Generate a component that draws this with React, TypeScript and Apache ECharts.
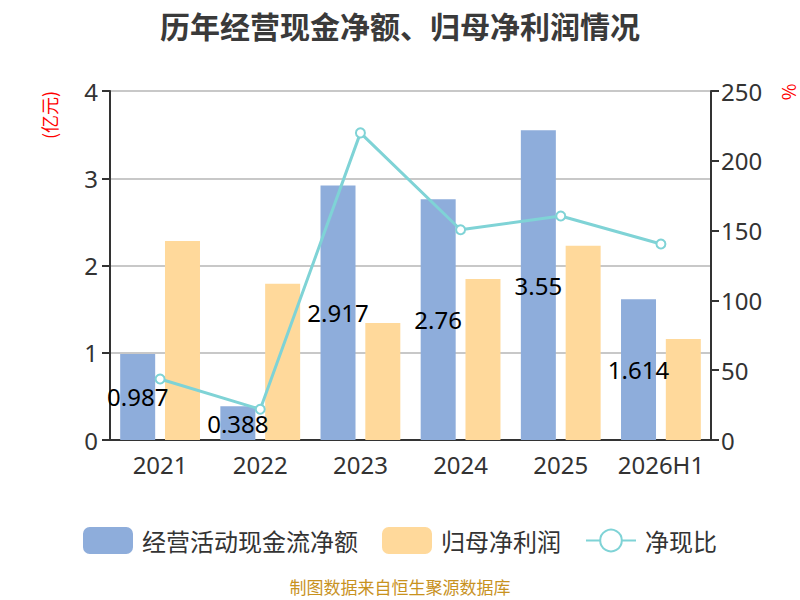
import React, { useEffect, useRef } from "react";
import * as echarts from "echarts";

const categories = ["2021", "2022", "2023", "2024", "2025", "2026H1"];
const cashFlow = [0.987, 0.388, 2.917, 2.76, 3.55, 1.614];
const netProfit = [2.28, 1.79, 1.34, 1.845, 2.227, 1.158];
const ratio = [43.7, 22, 220, 150.6, 160.5, 140.4];
const leftTicks = [0, 4, 1];
const rightTicks = [0, 250, 50];

const FONT = "'Noto Sans CJK SC', 'Noto Sans', sans-serif";
const NUM_FONT = "'Noto Sans', sans-serif";

export default function App() {
  const ref = useRef<HTMLDivElement>(null);
  useEffect(() => {
    document.body.style.margin = "0";
    if (!ref.current) return;
    const chart = echarts.init(ref.current, null, { renderer: "svg" });
    chart.setOption({
      animation: false,
      textStyle: { fontFamily: FONT },
      title: {
        text: "历年经营现金净额、归母净利润情况",
        left: "center",
        top: 5,
        textStyle: { fontSize: 30, fontWeight: "bold", color: "#3a3a3a", fontFamily: FONT },
      },
      grid: { left: 110, right: 89, top: 91, bottom: 160 },
      legend: {
        top: 522,
        left: "center",
        itemWidth: 50,
        itemHeight: 27,
        itemGap: 24,
        textStyle: { fontSize: 24, color: "#333", fontFamily: FONT, padding: [0, 0, 0, 4] },
        data: [
          { name: "经营活动现金流净额", icon: "roundRect" },
          { name: "归母净利润", icon: "roundRect" },
          { name: "净现比" },
        ],
      },
      graphic: [
        {
          type: "text",
          x: 49,
          y: 115,
          rotation: Math.PI / 2,
          style: {
            text: "(亿元)",
            fill: "#ff0000",
            fontSize: 18,
            fontFamily: FONT,
            align: "center",
            verticalAlign: "middle",
          },
        },
        {
          type: "text",
          x: 788,
          y: 92,
          rotation: Math.PI / 2,
          style: {
            text: "%",
            fill: "#ff0000",
            fontSize: 18,
            fontFamily: FONT,
            align: "center",
            verticalAlign: "middle",
          },
        },
        {
          type: "text",
          left: "center",
          top: 578,
          style: { text: "制图数据来自恒生聚源数据库", fill: "#C8921E", fontSize: 17, fontFamily: FONT },
        },
      ],
      xAxis: {
        type: "category",
        data: categories,
        axisLine: { lineStyle: { color: "#333", width: 2 } },
        axisTick: { length: 8, lineStyle: { color: "#333", width: 2 } },
        axisLabel: { fontSize: 24, color: "#333", margin: 12, interval: 0, fontFamily: NUM_FONT },
      },
      yAxis: [
        {
          type: "value",
          min: leftTicks[0],
          max: leftTicks[1],
          interval: leftTicks[2],
          axisLine: { show: true, lineStyle: { color: "#333", width: 2 } },
          axisTick: { show: true, length: 8, lineStyle: { color: "#333", width: 2 } },
          axisLabel: { fontSize: 24, color: "#333", margin: 12, fontFamily: NUM_FONT },
          splitLine: { lineStyle: { color: "#c8c8c8", width: 2 } },
        },
        {
          type: "value",
          min: rightTicks[0],
          max: rightTicks[1],
          interval: rightTicks[2],
          axisLine: { show: true, lineStyle: { color: "#333", width: 2 } },
          axisTick: { show: true, length: 8, lineStyle: { color: "#333", width: 2 } },
          axisLabel: { fontSize: 24, color: "#333", margin: 10, fontFamily: NUM_FONT },
          splitLine: { show: false },
        },
      ],
      series: [
        {
          name: "经营活动现金流净额",
          type: "bar",
          data: cashFlow,
          barWidth: 35,
          barGap: "28%",
          itemStyle: { color: "#8EADDB" },
          label: {
            show: true,
            position: "inside",
            fontSize: 24,
            color: "#000",
            fontFamily: NUM_FONT,
          },
        },
        {
          name: "归母净利润",
          type: "bar",
          data: netProfit,
          barWidth: 35,
          itemStyle: { color: "#FFD99B" },
        },
        {
          name: "净现比",
          type: "line",
          yAxisIndex: 1,
          data: ratio,
          symbol: "emptyCircle",
          symbolSize: 9,
          lineStyle: { color: "#7FD3D6", width: 3 },
          itemStyle: { color: "#7FD3D6", borderWidth: 2 },
        },
      ],
    });
    return () => chart.dispose();
  }, []);
  return <div ref={ref} style={{ width: 800, height: 600 }} />;
}
